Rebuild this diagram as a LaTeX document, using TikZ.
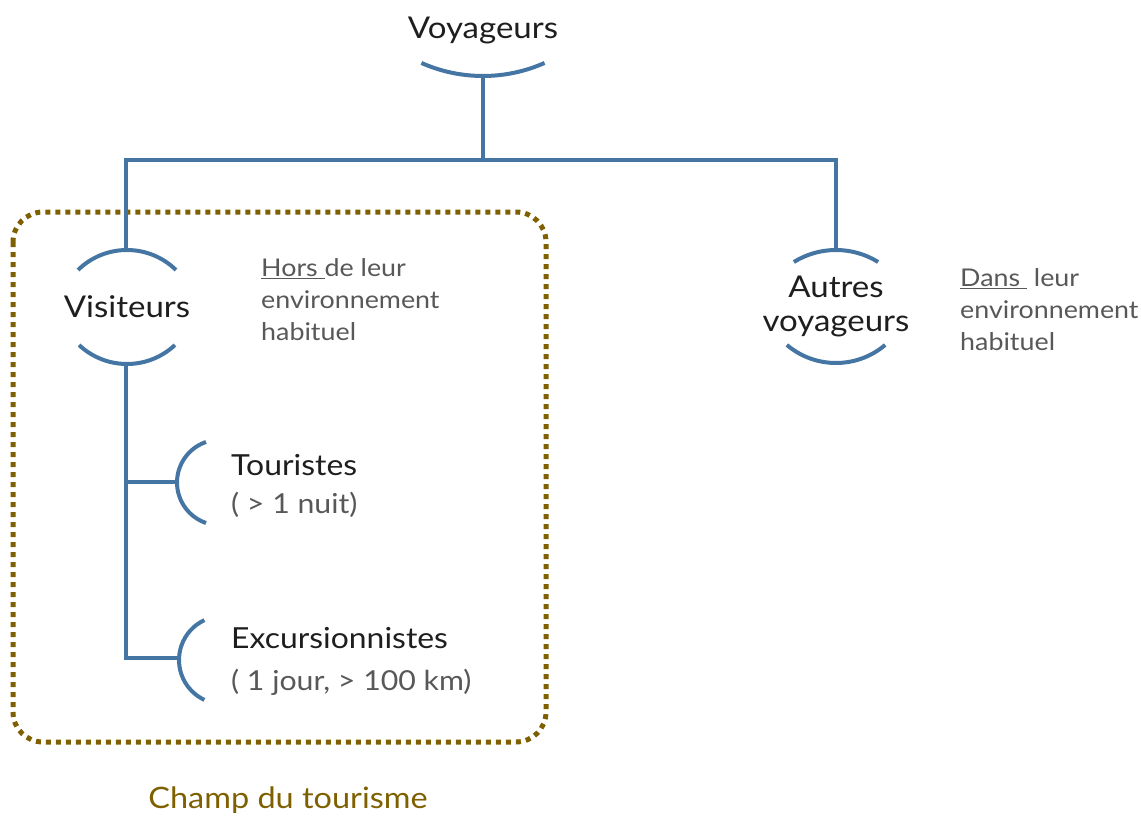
\documentclass[tikz,border=0pt]{standalone}
\usepackage{fontspec}
\setmainfont{Lato}[FakeStretch=1.1]
\definecolor{bleu}{RGB}{69,117,163}
\definecolor{brun}{RGB}{127,96,0}
\definecolor{gristxt}{RGB}{88,88,88}
\definecolor{noir}{RGB}{30,30,30}
\begin{document}
\begin{tikzpicture}[x=1pt,y=1pt,
  lien/.style={draw=bleu,line width=4pt},
  arcstyle/.style={draw=bleu,line width=4pt},
  titre/.style={inner sep=0pt,text=noir,font=\fontsize{30}{34}\selectfont},
  etiq/.style={inner sep=0pt,text=noir,anchor=west,font=\fontsize{29}{34}\selectfont},
  sous/.style={inner sep=0pt,text=gristxt,anchor=west,font=\fontsize{27.5}{32}\selectfont},
  note/.style={inner sep=0pt,text=gristxt,align=left,anchor=west,font=\fontsize{24.4}{32}\selectfont},
  champ/.style={draw=brun,line width=5pt,dash pattern=on 5pt off 5pt,rounded corners=30pt},
  champtxt/.style={inner sep=0pt,text=brun,font=\fontsize{29.5}{34}\selectfont}
]
\useasboundingbox (0,0) rectangle (1141,-816);
% tourism field
\draw[champ] (13,-212) rectangle (546,-742);
\node[champtxt] (champ) at (288,-800) {Champ du tourisme};
% nodes
\node[titre] (voy) at (483,-30) {Voyageurs};
\node[titre] (vis) at (127,-307) {Visiteurs};
\node[titre,align=center] (aut) at (836,-306) {Autres\\voyageurs};
\node[etiq] (tour) at (231,-465) {Touristes};
\node[sous] (tours) at (231,-505) {( > 1 nuit)};
\node[etiq] (exc) at (231,-638) {Excursionnistes};
\node[sous] (excs) at (231,-682) {( 1 jour, > 100 km)};
\node[note] (hors) at (261,-300) {\underline{Hors\ }de leur\\environnement\\habituel};
\node[note] (dans) at (960,-310) {\underline{Dans\ } leur\\environnement\\habituel};
% arcs
\draw[arcstyle] (483,76) ++(246.1:152) arc[start angle=246.1,end angle=293.9,radius=152];
\draw[arcstyle] (127,-320) ++(45.6:70) arc[start angle=45.6,end angle=134.4,radius=70];
\draw[arcstyle] (127,-294) ++(226.8:70) arc[start angle=226.8,end angle=313.2,radius=70];
\draw[arcstyle] (836,-330) ++(58.2:80) arc[start angle=58.2,end angle=121.8,radius=80];
\draw[arcstyle] (836,-287) ++(229.7:76) arc[start angle=229.7,end angle=310.3,radius=76];
\draw[arcstyle] (219.8,-482.5) ++(108.8:42.8) arc[start angle=108.8,end angle=251.2,radius=42.8];
\draw[arcstyle] (223,-660) ++(115:44) arc[start angle=115,end angle=245,radius=44];
% connector points
\coordinate (voyb) at (483,-76);
\coordinate (jct) at (483,-160);
\coordinate (visT) at (126,-250);
\coordinate (autT) at (836,-250);
\coordinate (visB) at (126,-364);
\coordinate (tourL) at (179,-482);
\coordinate (excL) at (179,-658);
% connectors
\draw[lien] (voyb) -- (jct);
\draw[lien] (visT) |- (jct) -| (autT);
\draw[lien] (visB) |- (excL);
\draw[lien] (visB |- tourL) -- (tourL);
\end{tikzpicture}
\end{document}
